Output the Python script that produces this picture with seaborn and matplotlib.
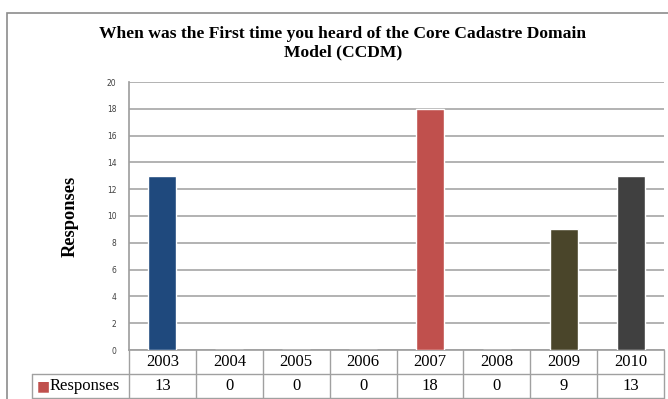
import matplotlib
matplotlib.use("Agg")
import matplotlib.pyplot as plt
import matplotlib.transforms as mtransforms
from matplotlib.patches import Rectangle
import seaborn as sns
import pandas as pd

years = ["2003", "2004", "2005", "2006", "2007", "2008", "2009", "2010"]
responses = [13, 0, 0, 0, 18, 0, 9, 13]
bar_colors = ["#1F497D", "#4F81BD", "#C0504D", "#9BBB59", "#C0504D", "#4BACC6", "#4A452A", "#404040"]
series_name = "Responses"
title = "When was the First time you heard of the Core Cadastre Domain\nModel (CCDM)"
y_ticks = [0, 2, 4, 6, 8, 10, 12, 14, 16, 18, 20]

df = pd.DataFrame({"year": years, "value": responses})

sns.set_theme(style="white")
plt.rcParams["font.family"] = ["Liberation Serif", "DejaVu Serif"]
plt.rcParams["text.color"] = "black"
plt.rcParams["axes.labelcolor"] = "black"

W, H = 668, 399
fig = plt.figure(figsize=(W / 100, H / 100), dpi=100)

# outer chart frame
fig.patches.append(Rectangle((7 / W, -0.1), 1.2, 1 - 13 / H + 0.1, transform=fig.transFigure,
                             fill=False, edgecolor="#8C8C8C", linewidth=1.2, zorder=0))

ax = fig.add_axes([129 / W, 1 - 350 / H, (664 - 129) / W, (350 - 82) / H])
sns.barplot(data=df, x="year", y="value", hue="year", palette=bar_colors,
            legend=False, width=0.42, ax=ax, saturation=1, zorder=3)

ax.set_ylim(0, 20)
ax.set_xlim(-0.5, len(years) - 0.5)
ax.set_yticks(y_ticks)
ax.set_yticklabels([str(t) for t in y_ticks], fontsize=5.5, color="#404040",
                   family="DejaVu Sans")
ax.tick_params(axis="y", length=0, pad=9)
ax.set_xticks([])
ax.set_xlabel("")
ax.set_ylabel(series_name, fontsize=13.2, fontweight="bold", labelpad=20)
ax.yaxis.grid(True, color="#A6A6A6", linewidth=1.2, zorder=0)
for side in ["top", "right"]:
    ax.spines[side].set_visible(False)
ax.spines["left"].set_color("#A0A0A0")
ax.spines["bottom"].set_color("#A0A0A0")

fig.text(343 / W, 1 - 26 / H, title, ha="center", va="top", fontsize=12.6,
         fontweight="bold", linespacing=1.22)

# data table under the axis, columns follow the category scale
tr = mtransforms.blended_transform_factory(ax.transData, ax.transAxes)
ax_h = 350 - 82
unit_px = (664 - 129) / len(years)
r1 = -24 / ax_h
r2 = -48 / ax_h
line_kw = dict(transform=tr, color="#A0A0A0", linewidth=1.0, clip_on=False)
left_edge = -0.5 - (129 - 32) / unit_px
ax.plot([left_edge, len(years) - 0.5], [r1, r1], **line_kw)
ax.plot([left_edge, len(years) - 0.5], [r2, r2], **line_kw)
ax.plot([left_edge, left_edge], [r1, r2], **line_kw)
for i in range(len(years) + 1):
    ax.plot([i - 0.5, i - 0.5], [0, r2], **line_kw)
for i, (yr, v) in enumerate(zip(years, responses)):
    ax.text(i, r1 / 2, yr, transform=tr, ha="center", va="center", fontsize=12, clip_on=False)
    ax.text(i, (r1 + r2) / 2, str(v), transform=tr, ha="center", va="center", fontsize=12, clip_on=False)
ax.text(left_edge + 5 / unit_px, (r1 + r2) / 2, "\u25A0", transform=tr, ha="left", va="center",
        fontsize=10, color="#C0504D", family="DejaVu Sans", clip_on=False)
ax.text(left_edge + 18 / unit_px, (r1 + r2) / 2, series_name, transform=tr, ha="left", va="center",
        fontsize=12, clip_on=False)

fig.savefig("out.png", dpi=100)
